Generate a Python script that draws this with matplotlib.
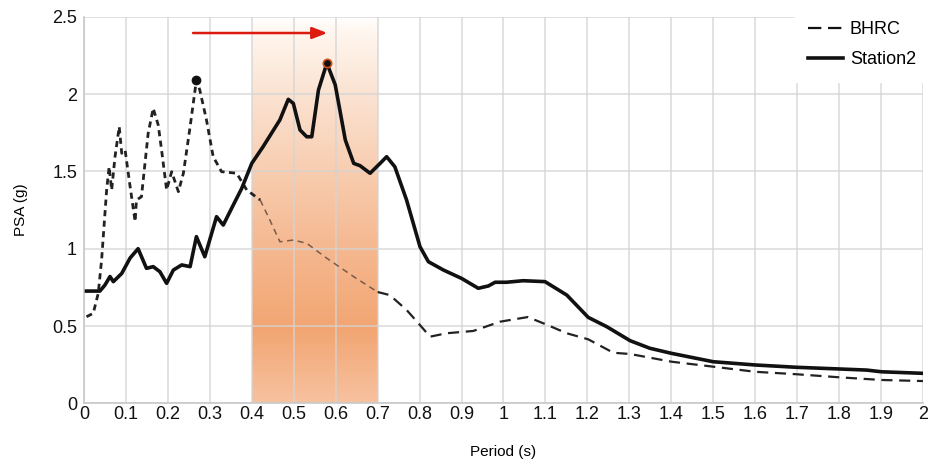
import numpy as np
import matplotlib
matplotlib.use("Agg")
import matplotlib.pyplot as plt
from matplotlib.colors import LinearSegmentedColormap
from matplotlib.lines import Line2D

plt.rcParams['font.family'] = ['Liberation Sans', 'DejaVu Sans']

# ---- data ----
station2_T = [0.006, 0.038, 0.05, 0.062, 0.07, 0.09, 0.11, 0.129, 0.149, 0.165, 0.181, 0.197,
              0.213, 0.233, 0.253, 0.268, 0.288, 0.316, 0.332, 0.356, 0.376, 0.40, 0.427,
              0.467, 0.487, 0.499, 0.515, 0.531, 0.543, 0.559, 0.579, 0.599, 0.623, 0.643,
              0.658, 0.682, 0.706, 0.7215, 0.741, 0.769, 0.801, 0.821, 0.857, 0.90, 0.94,
              0.964, 0.98, 1.007, 1.047, 1.099, 1.151, 1.202, 1.246, 1.302, 1.349, 1.401,
              1.5, 1.6, 1.699, 1.802, 1.866, 1.901, 2.0]
station2_psa = [0.726, 0.726, 0.765, 0.82, 0.787, 0.84, 0.94, 1.0, 0.873, 0.884, 0.851, 0.776,
                0.862, 0.895, 0.884, 1.078, 0.948, 1.207, 1.153, 1.283, 1.39, 1.552, 1.66,
                1.833, 1.966, 1.94, 1.768, 1.724, 1.724, 2.027, 2.2, 2.059, 1.703, 1.552,
                1.537, 1.488, 1.552, 1.595, 1.53, 1.315, 1.013, 0.916, 0.862, 0.808, 0.744,
                0.759, 0.783, 0.783, 0.793, 0.787, 0.70, 0.556, 0.496, 0.405, 0.356, 0.323,
                0.269, 0.248, 0.233, 0.222, 0.215, 0.204, 0.194]

bhrc_T = [0.006, 0.022, 0.034, 0.042, 0.054, 0.06, 0.066, 0.074, 0.084, 0.09, 0.098, 0.11,
          0.122, 0.125, 0.137, 0.153, 0.165, 0.177, 0.185, 0.197, 0.209, 0.225, 0.237, 0.253,
          0.268, 0.276, 0.292, 0.308, 0.328, 0.364, 0.388, 0.42, 0.443, 0.467, 0.499, 0.531,
          0.579, 0.643, 0.70, 0.729, 0.769, 0.801, 0.825, 0.864, 0.928, 0.992, 1.058, 1.099,
          1.151, 1.202, 1.262, 1.302, 1.401, 1.5, 1.6, 1.699, 1.802, 1.901, 2.0]
bhrc_psa = [0.56, 0.582, 0.711, 0.927, 1.38, 1.53, 1.38, 1.595, 1.789, 1.617, 1.638, 1.401,
            1.175, 1.315, 1.336, 1.746, 1.908, 1.80, 1.638, 1.38, 1.498, 1.369, 1.488, 1.789,
            2.091, 2.027, 1.833, 1.595, 1.498, 1.488, 1.38, 1.315, 1.186, 1.045, 1.056, 1.035,
            0.938, 0.819, 0.72, 0.70, 0.604, 0.506, 0.431, 0.453, 0.468, 0.528, 0.558, 0.513,
            0.453, 0.414, 0.327, 0.319, 0.269, 0.237, 0.204, 0.188, 0.168, 0.151, 0.144]

band = (0.4, 0.7)
arrow_span = (0.26, 0.58)
arrow_y = 2.395

xticks = [round(0.1 * i, 1) for i in range(21)]
xtick_labels = ['0', '0.1', '0.2', '0.3', '0.4', '0.5', '0.6', '0.7', '0.8', '0.9', '1',
                '1.1', '1.2', '1.3', '1.4', '1.5', '1.6', '1.7', '1.8', '1.9', '2']
yticks = [0, 0.5, 1, 1.5, 2, 2.5]
ytick_labels = ['0', '0.5', '1', '1.5', '2', '2.5']

# ---- figure ----
fig = plt.figure(figsize=(9.29, 4.66), dpi=100)
ax = fig.add_axes([0.0904, 0.1345, 0.9031, 0.8295])
ax.set_xlim(0, 2)
ax.set_ylim(0, 2.5)

# gradient band
cmap = LinearSegmentedColormap.from_list('band', [
    (0.0, '#f7c2a0'), (0.19, '#f2a572'), (0.4, '#f5b890'),
    (0.6, '#f8cdb0'), (0.8, '#fbe3d2'), (0.96, '#fff6ef'), (1.0, '#ffffff')])
grad = np.linspace(0, 1, 256).reshape(-1, 1)
ax.imshow(grad, extent=[band[0], band[1], 0, 2.5], origin='lower', aspect='auto',
          cmap=cmap, zorder=0.5, interpolation='bilinear')

# grid (drawn over the band, faint)
for xt in xticks:
    ax.axvline(xt, color='#d4d4d4', lw=1.2, alpha=0.8, zorder=1)
for yt in yticks:
    ax.axhline(yt, color='#d4d4d4', lw=1.2, alpha=0.8, zorder=1)

bT = np.array(bhrc_T)
bP = np.array(bhrc_psa)
m1 = bT <= 0.42
m2 = (bT >= 0.40) & (bT <= 0.70)
m3 = bT >= 0.70
ax.plot(bT[m1], bP[m1], color='#222222', lw=2.0, dashes=(2.2, 1.6), zorder=3)
ax.plot(bT[m2], bP[m2], color='#7a5a48', lw=1.1, dashes=(4, 3), zorder=3)
ax.plot(bT[m3], bP[m3], color='#222222', lw=1.6, dashes=(5, 3), zorder=3)

sT = np.array(station2_T)
sP = np.array(station2_psa)
ax.plot(sT, sP, color='#111111', lw=2.6, zorder=4, solid_joinstyle='round')

# peak markers
ib = int(np.argmax(bP))
ax.plot(bT[ib], bP[ib], 'o', color='#111111', ms=6, zorder=5)
isx = int(np.argmax(sP))
ax.plot(sT[isx], sP[isx], 'o', color='#111111', mec='#d2501a', mew=1.2, ms=6, zorder=5)

# arrow
ax.annotate('', xy=(arrow_span[1], arrow_y), xytext=(arrow_span[0], arrow_y),
            arrowprops=dict(arrowstyle='-|>,head_length=0.9,head_width=0.35',
                            color='#dd1a10', lw=1.8, shrinkA=0, shrinkB=0), zorder=6)

# legend
handles = [Line2D([], [], color='#111111', lw=1.6, dashes=(6, 3)),
           Line2D([], [], color='#111111', lw=2.6)]
leg = ax.legend(handles, ['BHRC', 'Station2'], loc='upper left',
                bbox_to_anchor=(0.8535, 1.01), frameon=True, fontsize=13,
                handlelength=1.95, handletextpad=0.35, borderpad=0.45, labelspacing=0.72,
                borderaxespad=0)
leg.get_frame().set_edgecolor('white')
leg.get_frame().set_facecolor('white')
leg.get_frame().set_alpha(1)
leg.get_frame().set_boxstyle('square')
leg.set_zorder(7)

ax.set_xticks(xticks)
ax.set_xticklabels(xtick_labels)
ax.set_yticks(yticks)
ax.set_yticklabels(ytick_labels)
ax.tick_params(length=0, labelsize=13, colors='#111111')
ax.tick_params(axis='x', pad=2)
ax.tick_params(axis='y', pad=5)
for s in ['top', 'right']:
    ax.spines[s].set_visible(False)
for s in ['left', 'bottom']:
    ax.spines[s].set_color('#c8c8c8')
    ax.spines[s].set_linewidth(1.2)

ax.set_xlabel('Period (s)', fontsize=11, labelpad=16)
ax.set_ylabel('PSA (g)', fontsize=11, labelpad=17)

fig.savefig('out.png', dpi=100)
